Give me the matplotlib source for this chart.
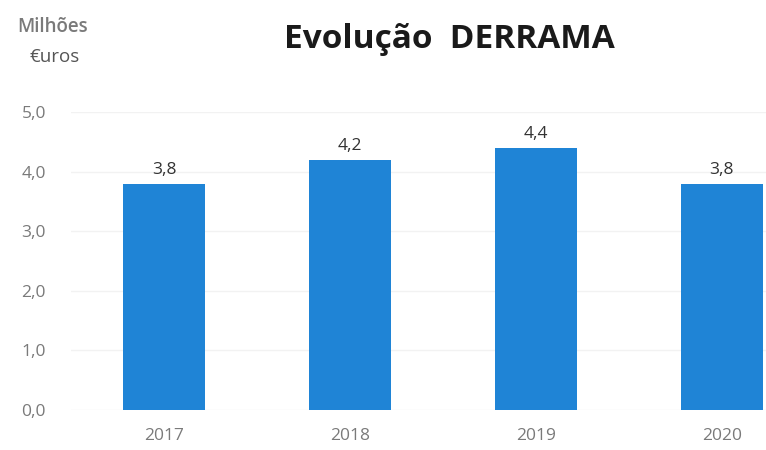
import matplotlib.pyplot as plt

# data
anos = ['2017', '2018', '2019', '2020']
derrama = [3.8, 4.2, 4.4, 3.8]
yticks = [0.0, 1.0, 2.0, 3.0, 4.0, 5.0]

plt.rcParams['font.family'] = ['Open Sans', 'DejaVu Sans']

fig = plt.figure(figsize=(7.66, 4.5), dpi=100)
ax = fig.add_axes([71 / 766, 40 / 450, (766 - 71) / 766, 298 / 450])

x = list(range(len(anos)))
bars = ax.bar(x, derrama, width=0.44, color='#1f84d6', zorder=3)

# value labels
for xi, v in zip(x, derrama):
    ax.text(xi, v + 0.1, f'{v:.1f}'.replace('.', ','), ha='center', va='bottom',
            fontsize=12.5, color='#333333')

ax.set_xlim(-0.5, 3.237)
ax.set_ylim(0, 5)
ax.set_xticks(x)
ax.set_xticklabels(anos)
ax.set_yticks(yticks)
ax.set_yticklabels([f'{t:.1f}'.replace('.', ',') for t in yticks])
ax.tick_params(axis='both', length=0, labelsize=12.5, labelcolor='#7a7a7a')
ax.tick_params(axis='x', pad=13)
ax.tick_params(axis='y', pad=18)
ax.grid(axis='y', color='#f2f2f2', linewidth=1, zorder=0)
for s in ax.spines.values():
    s.set_visible(False)

fig.text(449 / 766, 1 - 39 / 450, 'Evolução  DERRAMA', ha='center', va='center',
         fontsize=24, fontweight='bold', color='#1a1a1a')
fig.text(53 / 766, 1 - 27 / 450, 'Milhões', ha='center', va='center',
         fontsize=13.5, fontweight='semibold', color='#7a7a7a')
fig.text(55 / 766, 1 - 57 / 450, '€uros', ha='center', va='center',
         fontsize=13.5, color='#555555')

fig.savefig('out.png', dpi=100, facecolor='white')
